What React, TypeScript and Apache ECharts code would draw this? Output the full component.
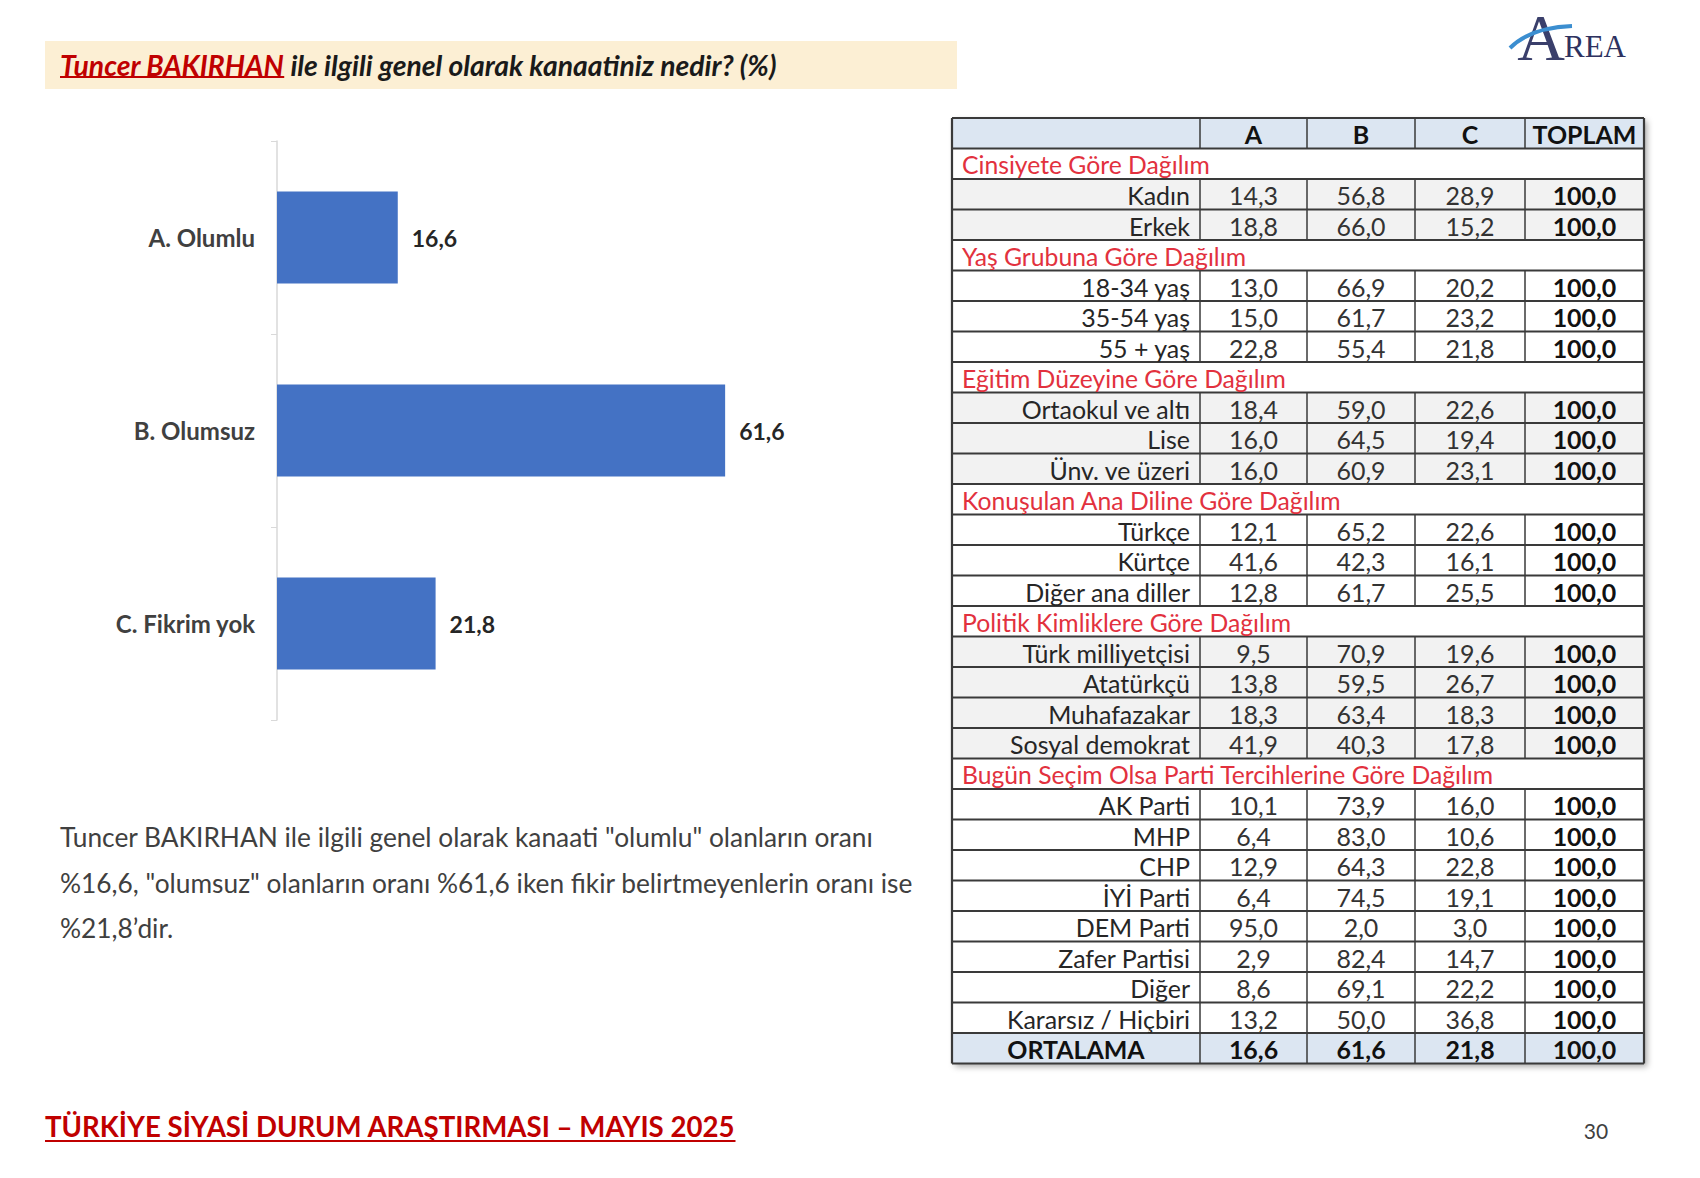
import React, { useEffect, useRef } from "react";
import * as echarts from "echarts";

// ---------- DATA ----------
const barCategories = ["A. Olumlu", "B. Olumsuz", "C. Fikrim yok"];
const barValues = [16.6, 61.6, 21.8];

const tableColumns = ["A", "B", "C", "TOPLAM"];
const sectionTitles = [
  "Cinsiyete Göre Dağılım",
  "Yaş Grubuna Göre Dağılım",
  "Eğitim Düzeyine Göre Dağılım",
  "Konuşulan Ana Diline Göre Dağılım",
  "Politik Kimliklere Göre Dağılım",
  "Bugün Seçim Olsa Parti Tercihlerine Göre Dağılım",
];
const sectionRowCounts = [2, 3, 3, 3, 4, 8];
const sectionShaded = [true, false, true, false, true, false];
const rowLabels = [
  "Kadın", "Erkek",
  "18-34 yaş", "35-54 yaş", "55 + yaş",
  "Ortaokul ve altı", "Lise", "Ünv. ve üzeri",
  "Türkçe", "Kürtçe", "Diğer ana diller",
  "Türk milliyetçisi", "Atatürkçü", "Muhafazakar", "Sosyal demokrat",
  "AK Parti", "MHP", "CHP", "İYİ Parti", "DEM Parti", "Zafer Partisi", "Diğer", "Kararsız / Hiçbiri",
];
const valuesA = [14.3, 18.8, 13.0, 15.0, 22.8, 18.4, 16.0, 16.0, 12.1, 41.6, 12.8, 9.5, 13.8, 18.3, 41.9, 10.1, 6.4, 12.9, 6.4, 95.0, 2.9, 8.6, 13.2];
const valuesB = [56.8, 66.0, 66.9, 61.7, 55.4, 59.0, 64.5, 60.9, 65.2, 42.3, 61.7, 70.9, 59.5, 63.4, 40.3, 73.9, 83.0, 64.3, 74.5, 2.0, 82.4, 69.1, 50.0];
const valuesC = [28.9, 15.2, 20.2, 23.2, 21.8, 22.6, 19.4, 23.1, 22.6, 16.1, 25.5, 19.6, 26.7, 18.3, 17.8, 16.0, 10.6, 22.8, 19.1, 3.0, 14.7, 22.2, 36.8];
const rowTotal = 100.0;
const averageLabel = "ORTALAMA";
const averageValues = [16.6, 61.6, 21.8, 100.0];

const titleName = "Tuncer BAKIRHAN";
const titleRest = " ile ilgili genel olarak kanaatiniz nedir? (%)";
const paragraphLines = [
  "Tuncer BAKIRHAN ile ilgili genel olarak kanaati \"olumlu\" olanların oranı",
  "%16,6, \"olumsuz\" olanların oranı %61,6 iken fikir belirtmeyenlerin oranı ise",
  "%21,8’dir.",
];
const footerText = "TÜRKİYE SİYASİ DURUM ARAŞTIRMASI – MAYIS 2025";
const pageNumber = "30";

// ---------- HELPERS ----------
const FONT = "Lato, 'Open Sans', sans-serif";
const fmt = (v: number) => v.toFixed(1).replace(".", ",");

let measureCtx: CanvasRenderingContext2D | null = null;
function tw(text: string, size: number, weight = "normal", style = "normal") {
  if (!measureCtx) measureCtx = document.createElement("canvas").getContext("2d");
  measureCtx!.font = `${style} ${weight} ${size}px Lato`;
  return measureCtx!.measureText(text).width;
}
function fit(text: string, target: number, weight = "normal", style = "normal") {
  return (20 * target) / tw(text, 20, weight, style);
}

function txt(text: string, x: number, y: number, size: number, o: any = {}) {
  const align = o.align || "left";
  return {
    type: "text",
    silent: true,
    z: o.z ?? 10,
    style: {
      text,
      x,
      y,
      fontSize: size,
      fontFamily: o.family || FONT,
      fontWeight: o.weight || "normal",
      fontStyle: o.style || "normal",
      fill: o.fill || "#333",
      textAlign: align,
      align,
      textVerticalAlign: "middle",
      verticalAlign: "middle",
    },
  };
}
function line(x1: number, y1: number, x2: number, y2: number, stroke: string, lw: number, z = 5) {
  return { type: "line", silent: true, z, shape: { x1, y1, x2, y2 }, style: { stroke, lineWidth: lw } };
}

function buildGraphics() {
  const g: any[] = [];

  // Title box
  g.push({ type: "rect", silent: true, z: 1, shape: { x: 45, y: 41, width: 912, height: 48 }, style: { fill: "#FCEFD4" } });
  const titleSize = fit(titleName + titleRest, 717, "bold", "italic");
  const nameW = tw(titleName, titleSize, "bold", "italic");
  g.push(txt(titleName, 60, 65, titleSize, { weight: "bold", style: "italic", fill: "#C00000" }));
  g.push(line(60, 77, 60 + nameW, 77, "#C00000", 2));
  g.push(txt(titleRest, 60 + nameW, 65, titleSize, { weight: "bold", style: "italic", fill: "#1A1A1A" }));

  // Logo
  g.push({
    type: "bezierCurve", silent: true, z: 12,
    shape: { x1: 1510, y1: 48, cpx1: 1525, cpy1: 33, cpx2: 1545, cpy2: 27, x2: 1572, y2: 26 },
    style: { stroke: "#3B8ED0", lineWidth: 4, fill: null },
  });
  g.push(txt("A", 1541, 37, 66, { align: "center", family: "'Liberation Serif', 'DejaVu Serif', serif", fill: "#3A3F6B" }));
  g.push(txt("REA", 1564, 46, 31, { family: "'Liberation Serif', 'DejaVu Serif', serif", fill: "#2E3260" }));

  // Paragraph
  const paraSize = Math.min(fit(paragraphLines[0], 853), fit(paragraphLines[1], 853));
  paragraphLines.forEach((l, i) => g.push(txt(l, 60, 837 + i * 45.5, paraSize, { fill: "#404040" })));

  // Footer
  const footSize = fit(footerText, 691, "bold");
  const footW = tw(footerText, footSize, "bold");
  g.push(txt(footerText, 45, 1126, footSize, { weight: "bold", fill: "#C00000" }));
  g.push(line(45, 1141, 45 + footW, 1141, "#C00000", 2));
  g.push(txt(pageNumber, 1596, 1130, 21, { align: "center", fill: "#404040" }));

  // Table
  const TX = [952, 1200, 1307, 1415, 1525, 1644];
  const TY = 118;
  const RH = 30.5;
  const rows: any[] = [{ kind: "header" }];
  let k = 0;
  sectionTitles.forEach((t, si) => {
    rows.push({ kind: "section", text: t });
    for (let j = 0; j < sectionRowCounts[si]; j++) {
      rows.push({ kind: "data", idx: k, shaded: sectionShaded[si] });
      k++;
    }
  });
  rows.push({ kind: "avg" });

  const cellSize = fit("Sosyal demokrat", 180);
  const secSize = fit(sectionTitles[5], 532);
  const totalH = rows.length * RH;
  const lineCol = "#3A3A3A";

  g.push({
    type: "rect", silent: true, z: 0,
    shape: { x: TX[0], y: TY, width: TX[5] - TX[0], height: totalH },
    style: { fill: "#fff", shadowBlur: 6, shadowColor: "rgba(0,0,0,0.35)", shadowOffsetX: 3, shadowOffsetY: 3 },
  });

  rows.forEach((r, i) => {
    const y0 = TY + i * RH;
    const cy = y0 + RH / 2 + 1;
    let fill = "#FFFFFF";
    if (r.kind === "header" || r.kind === "avg") fill = "#DCE6F2";
    else if (r.kind === "data" && r.shaded) fill = "#F2F2F2";
    g.push({ type: "rect", silent: true, z: 1, shape: { x: TX[0], y: y0, width: TX[5] - TX[0], height: RH }, style: { fill } });
    if (r.kind !== "section") {
      for (let c = 1; c <= 4; c++) g.push(line(TX[c], y0, TX[c], y0 + RH, lineCol, 1.5, 4));
    }
    const mid = (c: number) => (TX[c] + TX[c + 1]) / 2;
    if (r.kind === "header") {
      tableColumns.forEach((c, ci) => g.push(txt(c, mid(ci + 1), cy, cellSize, { align: "center", weight: "bold", fill: "#111" })));
    } else if (r.kind === "section") {
      g.push(txt(r.text, TX[0] + 10, cy, secSize, { fill: "#E2313E" }));
    } else if (r.kind === "data") {
      const j = r.idx;
      g.push(txt(rowLabels[j], TX[1] - 10, cy, cellSize, { align: "right", fill: "#262626" }));
      [valuesA[j], valuesB[j], valuesC[j]].forEach((v, ci) =>
        g.push(txt(fmt(v), mid(ci + 1), cy, cellSize, { align: "center", fill: "#333" }))
      );
      g.push(txt(fmt(rowTotal), mid(4), cy, cellSize, { align: "center", weight: "bold", fill: "#111" }));
    } else {
      g.push(txt(averageLabel, mid(0), cy, cellSize, { align: "center", weight: "bold", fill: "#111" }));
      averageValues.forEach((v, ci) =>
        g.push(txt(fmt(v), mid(ci + 1), cy, cellSize, { align: "center", weight: "bold", fill: "#111" }))
      );
    }
  });
  for (let i = 0; i <= rows.length; i++) {
    const y = TY + i * RH;
    g.push(line(TX[0], y, TX[5], y, lineCol, 2.2, 5));
  }
  g.push(line(TX[0], TY, TX[0], TY + totalH, lineCol, 2.2, 5));
  g.push(line(TX[5], TY, TX[5], TY + totalH, lineCol, 2.2, 5));

  return g;
}

function buildOption(): any {
  return {
    animation: false,
    backgroundColor: "#FFFFFF",
    grid: { left: 277, top: 141, width: 582, height: 579, containLabel: false },
    xAxis: { type: "value", min: 0, max: 80, show: false },
    yAxis: {
      type: "category",
      data: barCategories,
      inverse: true,
      axisLine: { show: true, lineStyle: { color: "#D9D9D9", width: 1.5 } },
      axisTick: { show: true, length: 6, lineStyle: { color: "#D9D9D9" } },
      axisLabel: { fontSize: 24, fontWeight: "bold", color: "#404040", margin: 22, fontFamily: FONT },
    },
    series: [
      {
        type: "bar",
        data: barValues,
        barWidth: 92,
        itemStyle: { color: "#4472C4" },
        label: {
          show: true,
          position: "right",
          distance: 14,
          fontSize: 23,
          fontWeight: "bold",
          color: "#262626",
          fontFamily: FONT,
          formatter: (p: any) => fmt(p.value),
        },
      },
    ],
    graphic: { elements: buildGraphics() },
  };
}

export default function App() {
  const ref = useRef<HTMLDivElement>(null);
  useEffect(() => {
    const chart = echarts.init(ref.current!, null, { renderer: "svg", width: 1700, height: 1178 });
    chart.setOption(buildOption());
    return () => chart.dispose();
  }, []);
  return (
    <div
      ref={ref}
      style={{ position: "absolute", left: 0, top: 0, width: 1700, height: 1178, background: "#fff" }}
    />
  );
}
